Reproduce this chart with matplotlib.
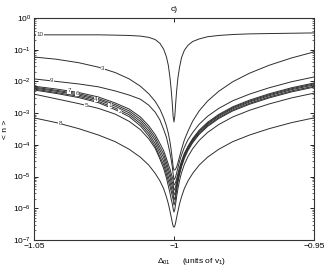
import numpy as np
import matplotlib
matplotlib.use('Agg')
import matplotlib.pyplot as plt
from matplotlib.ticker import LogLocator, NullFormatter

plt.rcParams['font.family'] = ['Liberation Sans', 'DejaVu Sans']
plt.rcParams['mathtext.fontset'] = 'custom'
plt.rcParams['mathtext.rm'] = 'Liberation Sans'
plt.rcParams['mathtext.it'] = 'Liberation Sans:italic'

# detuning grid (units of v_1): left branch, then right branch
delta = [-1.05, -1.042, -1.034, -1.027, -1.021, -1.016, -1.012, -1.009, -1.0067,
         -1.005, -1.0037, -1.0027, -1.002, -1.0014, -1.001, -1.0006, -1.0003, -1.0,
         -0.9997, -0.9994, -0.999, -0.9986, -0.998, -0.9973, -0.9963, -0.995,
         -0.9933, -0.991, -0.988, -0.984, -0.979, -0.973, -0.966, -0.958, -0.95]

# log10 <n>, one list per curve
n10 = [-0.53, -0.53, -0.53, -0.53, -0.54, -0.55, -0.57, -0.61, -0.68,
       -0.80, -0.98, -1.22, -1.50, -1.90, -2.25, -2.70, -3.10, -3.28,
       -3.10, -2.70, -2.25, -1.90, -1.55, -1.25, -1.02, -0.86,
       -0.74, -0.66, -0.59, -0.55, -0.52, -0.50, -0.49, -0.48, -0.47]
n3 = [-1.23, -1.30, -1.41, -1.55, -1.72, -1.92, -2.15, -2.39, -2.63,
      -2.88, -3.14, -3.40, -3.64, -3.92, -4.16, -4.45, -4.69, -4.80,
      -4.79, -4.76, -4.69, -4.57, -4.37, -4.14, -3.85, -3.57,
      -3.25, -2.93, -2.62, -2.31, -2.01, -1.74, -1.49, -1.26, -1.07]
n9 = [-1.92, -2.00, -2.08, -2.17, -2.30, -2.43, -2.56, -2.75, -2.97,
      -3.22, -3.51, -3.76, -4.02, -4.27, -4.46, -4.69, -4.91, -5.10,
      -5.07, -5.00, -4.87, -4.73, -4.52, -4.32, -4.08, -3.84,
      -3.61, -3.35, -3.10, -2.85, -2.61, -2.40, -2.20, -2.01, -1.86]
n7 = [-2.15, -2.24, -2.35, -2.49, -2.68, -2.87, -3.12, -3.40, -3.68,
      -3.96, -4.18, -4.43, -4.62, -4.77, -4.90, -5.02, -5.11, -5.27,
      -5.24, -5.18, -5.05, -4.91, -4.71, -4.51, -4.27, -4.05,
      -3.80, -3.54, -3.29, -3.04, -2.80, -2.59, -2.39, -2.20, -2.05]
n6 = [-2.18, -2.28, -2.39, -2.54, -2.73, -2.93, -3.19, -3.48, -3.77,
      -4.07, -4.29, -4.55, -4.75, -4.91, -5.04, -5.17, -5.27, -5.43,
      -5.40, -5.31, -5.15, -4.99, -4.77, -4.56, -4.31, -4.06,
      -3.83, -3.57, -3.32, -3.07, -2.83, -2.62, -2.42, -2.23, -2.08]
n4 = [-2.21, -2.31, -2.43, -2.58, -2.78, -2.99, -3.26, -3.56, -3.86,
      -4.17, -4.40, -4.67, -4.87, -5.04, -5.18, -5.31, -5.41, -5.58,
      -5.54, -5.43, -5.24, -5.06, -4.82, -4.60, -4.34, -4.10,
      -3.86, -3.60, -3.35, -3.10, -2.86, -2.65, -2.45, -2.26, -2.11]
n1 = [-2.24, -2.35, -2.47, -2.63, -2.84, -3.05, -3.33, -3.64, -3.96,
      -4.27, -4.52, -4.80, -5.01, -5.18, -5.32, -5.46, -5.57, -5.74,
      -5.68, -5.55, -5.33, -5.13, -4.88, -4.65, -4.39, -4.14,
      -3.90, -3.64, -3.39, -3.14, -2.90, -2.69, -2.49, -2.30, -2.15]
n2 = [-2.27, -2.38, -2.51, -2.67, -2.89, -3.11, -3.40, -3.72, -4.05,
      -4.38, -4.63, -4.92, -5.14, -5.32, -5.46, -5.61, -5.72, -5.90,
      -5.83, -5.66, -5.41, -5.19, -4.93, -4.69, -4.43, -4.18,
      -3.93, -3.67, -3.42, -3.17, -2.93, -2.72, -2.52, -2.33, -2.18]
n5 = [-2.40, -2.55, -2.70, -2.85, -3.03, -3.26, -3.52, -3.81, -4.11,
      -4.45, -4.74, -5.04, -5.30, -5.53, -5.71, -5.86, -6.01, -6.12,
      -6.04, -5.86, -5.61, -5.39, -5.12, -4.88, -4.62, -4.37,
      -4.12, -3.86, -3.61, -3.36, -3.12, -2.91, -2.71, -2.52, -2.37]
n8 = [-3.15, -3.30, -3.49, -3.69, -3.90, -4.14, -4.39, -4.64, -4.90,
      -5.14, -5.38, -5.64, -5.86, -6.10, -6.27, -6.45, -6.56, -6.60,
      -6.56, -6.45, -6.27, -6.10, -5.86, -5.64, -5.38, -5.14,
      -4.90, -4.64, -4.39, -4.14, -3.90, -3.69, -3.49, -3.30, -3.15]

curves = [n10, n3, n9, n7, n6, n4, n1, n2, n5, n8]

# curve labels: text, delta, log10 <n>
labels = ['10', '3', '9', '7', '6', '4', '1', '2', '5', '8']
label_x = [-1.0479, -1.0254, -1.0436, -1.0375, -1.0346, -1.0279, -1.0229, -1.0193, -1.0314, -1.0407]
label_y = [-0.53, -1.59, -1.98, -2.30, -2.38, -2.56, -2.76, -2.95, -2.76, -3.33]

xticks = [-1.05, -1.0, -0.95]
xticklabels = ['\u22121.05', '\u22121', '\u22120.95']

fig = plt.figure(figsize=(3.27, 2.69), dpi=100)
ax = fig.add_axes([0.104, 0.108, 0.856, 0.825])

for c in curves:
    ax.plot(delta, 10.0 ** np.array(c), color='#2e2e2e', lw=0.7)

for t, lx, ly in zip(labels, label_x, label_y):
    ax.text(lx, 10.0 ** ly, t, fontsize=4.5, ha='center', va='center', color='#333333',
            bbox=dict(facecolor='white', edgecolor='none', pad=0.1))

ax.set_yscale('log')
ax.set_xlim(-1.05, -0.95)
ax.set_ylim(1e-7, 1)
ax.set_xticks(xticks)
ax.set_xticklabels(xticklabels)
ax.yaxis.set_major_locator(LogLocator(base=10, numticks=10))
ax.yaxis.set_minor_locator(LogLocator(base=10, subs=np.arange(2, 10), numticks=10))
ax.yaxis.set_minor_formatter(NullFormatter())
ax.tick_params(which='both', direction='in', top=True, right=True, labelsize=6, pad=2)
ax.tick_params(which='major', length=3, width=0.6)
ax.tick_params(which='minor', length=1.5, width=0.4)
for s in ax.spines.values():
    s.set_linewidth(0.8)
    s.set_color('#333333')

ax.set_title('c)', fontsize=6, pad=5)
ax.set_ylabel('< n >', fontsize=6, labelpad=3)
# x label in two pieces, as in the original
fig.text(0.50, 0.028, '$\\Delta_{01}$', fontsize=6, ha='center', va='center')
fig.text(0.625, 0.028, '(units of v$_1$)', fontsize=6, ha='center', va='center')

fig.savefig('out.png', dpi=100)
